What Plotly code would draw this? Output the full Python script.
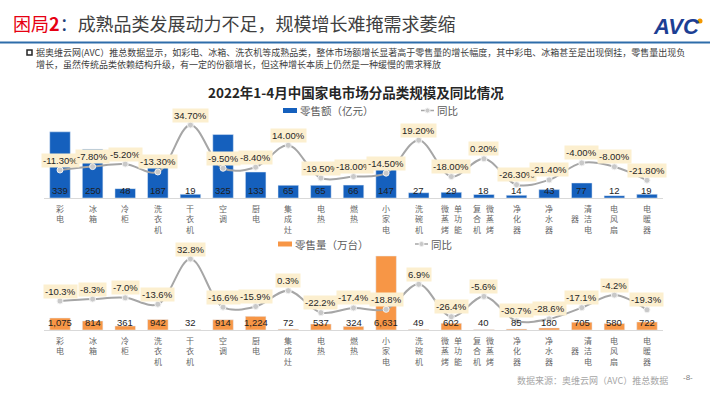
import plotly.graph_objects as go

# ---------------- data ----------------
categories = ["彩电", "冰箱", "冷柜", "洗衣机", "干衣机", "空调", "厨电", "集成灶", "电热", "燃热",
              "小家电", "洗碗机", "单功能微蒸烤", "微蒸烤复合机", "净化器", "净水器", "清洁电器", "电风扇", "电暖器"]
sales_value = [339, 250, 48, 187, 19, 325, 133, 65, 65, 66, 147, 27, 29, 18, 14, 43, 77, 12, 19]
sales_value_yoy = [-11.3, -7.8, -5.2, -13.3, 34.7, -9.5, -8.4, 14.0, -19.5, -18.0, -14.5, 19.2,
                   -18.0, 0.2, -26.3, -21.4, -4.0, -8.0, -21.8]
sales_volume = [1075, 814, 361, 942, 32, 914, 1224, 72, 537, 324, 6631, 49, 602, 40, 85, 180, 705, 580, 722]
sales_volume_yoy = [-10.3, -8.3, -7.0, -13.6, 32.8, -16.6, -15.9, 0.3, -22.2, -17.4, -18.8, 6.9,
                    -26.4, -5.6, -30.7, -28.6, -17.1, -4.2, -19.3]

title_text = "成熟品类发展动力不足，规模增长难掩需求萎缩"
chart_title = "2022年1-4月中国家电市场分品类规模及同比情况"
para_line1 = "据奥维云网(AVC）推总数据显示，如彩电、冰箱、洗衣机等成熟品类，整体市场额增长显著高于零售量的增长幅度，其中彩电、冰箱甚至是出现倒挂，零售量出现负"
para_line2 = "增长，虽然传统品类依赖结构升级，有一定的份额增长，但这种增长本质上仍然是一种缓慢的需求释放"
legend_value = "零售额（亿元）"
legend_volume = "零售量（万台）"
legend_yoy = "同比"
source_text = "数据来源：奥维云网（AVC）推总数据"
page_no = "-8-"

# ---------------- layout helpers ----------------
W, H = 710, 399
def px(x):
    return x / W
def py(y):
    return 1 - y / H

FONT = "Liberation Sans, Noto Sans CJK SC, sans-serif"
CJK = "Noto Sans CJK SC, Liberation Sans, sans-serif"
BLUE = "#1560BD"
ORANGE = "#F79646"
LINE_GREY = "#A6A6A6"
LABEL_BG = "#FCEFCF"

x_dom = [px(43.7), px(663.3)]
top_dom = [py(198), py(108)]
bot_dom = [py(330), py(240)]

fig = go.Figure()

# top chart
fig.add_trace(go.Bar(x=categories, y=sales_value, marker_color=BLUE, width=0.63,
                     xaxis="x", yaxis="y", showlegend=False, hoverinfo="skip"))
fig.add_trace(go.Scatter(x=categories, y=sales_value_yoy, mode="lines+markers",
                         line=dict(color=LINE_GREY, width=2, shape="spline", smoothing=1),
                         marker=dict(size=6, color="#C9C9C9", line=dict(color="#F2F2F2", width=1)),
                         xaxis="x", yaxis="y2", showlegend=False, hoverinfo="skip"))
# bottom chart
fig.add_trace(go.Bar(x=categories, y=sales_volume, marker_color=ORANGE, width=0.63,
                     xaxis="x2", yaxis="y3", showlegend=False, hoverinfo="skip"))
fig.add_trace(go.Scatter(x=categories, y=sales_volume_yoy, mode="lines+markers",
                         line=dict(color=LINE_GREY, width=2, shape="spline", smoothing=1),
                         marker=dict(size=6, color="#C9C9C9", line=dict(color="#F2F2F2", width=1)),
                         xaxis="x2", yaxis="y4", showlegend=False, hoverinfo="skip"))

ann = []
shapes = []

# value labels and yoy labels
for c, v, p in zip(categories, sales_value, sales_value_yoy):
    ann.append(dict(x=c, y=0, xref="x", yref="y", text=str(v), showarrow=False,
                    yanchor="bottom", yshift=0, font=dict(family=FONT, size=9.5, color="#1E1E1E")))
    ann.append(dict(x=c, y=p, xref="x", yref="y2", text=f"{p:.2f}%", showarrow=False,
                    yanchor="middle", yshift=10, bgcolor=LABEL_BG, borderpad=1,
                    font=dict(family=FONT, size=9.5, color="#262626")))
for c, v, p in zip(categories, sales_volume, sales_volume_yoy):
    ann.append(dict(x=c, y=0, xref="x2", yref="y3", text=f"{v:,}", showarrow=False,
                    yanchor="bottom", yshift=0, font=dict(family=FONT, size=9.5, color="#1E1E1E")))
    ann.append(dict(x=c, y=p, xref="x2", yref="y4", text=f"{p:.1f}%", showarrow=False,
                    yanchor="middle", yshift=10, bgcolor=LABEL_BG, borderpad=1,
                    font=dict(family=FONT, size=9.5, color="#262626")))

# vertical category labels (chunks of 3 chars, first chunk right column)
CAT_FS = 8
ROW = CAT_FS * 1.3
for xref, yref in (("x", "y domain"), ("x2", "y3 domain")):
    for c in categories:
        cols = [c[i:i + 3] for i in range(0, len(c), 3)]
        n = len(cols)
        maxrows = max(len(col) for col in cols)
        for j, col in enumerate(cols):
            xs = ((n - 1) / 2 - j) * 13
            voff = (maxrows - len(col)) * ROW / 2
            ann.append(dict(x=c, y=0, xref=xref, yref=yref, text="<br>".join(col), showarrow=False,
                            xshift=xs, yshift=-(3.5 + voff), yanchor="top", borderpad=0,
                            font=dict(family=CJK, size=CAT_FS, color="#666666")))

# page title
ann.append(dict(x=px(11), y=py(23), xref="paper", yref="paper", xanchor="left", yanchor="middle",
                text="<span style='color:#E60012'>困局<b>2</b></span><span style='color:#1F3F7A'>：</span>" + title_text,
                showarrow=False, font=dict(family=CJK, size=18, color="#404040")))
# logo
ann.append(dict(x=px(676), y=py(26), xref="paper", yref="paper", xanchor="center", yanchor="middle",
                text="<b><i>AVC</i></b>",
                showarrow=False, font=dict(family="Liberation Sans, sans-serif", size=22, color="#1C3F94")))
shapes.append(dict(type="circle", xref="paper", yref="paper", x0=px(697.5), x1=px(702.5),
                   y0=py(23.5), y1=py(18.5), fillcolor="#F39800", line=dict(width=0)))
# blue rule
shapes.append(dict(type="line", xref="paper", yref="paper", x0=0, x1=1, y0=py(42.5), y1=py(42.5),
                   line=dict(color="#2E6DAA", width=2)))
# bullet
shapes.append(dict(type="rect", xref="paper", yref="paper", x0=px(27), x1=px(32), y0=py(55), y1=py(50),
                   line=dict(color="#262626", width=1.5), fillcolor="white"))
ann.append(dict(x=px(35), y=py(58), xref="paper", yref="paper", xanchor="left", yanchor="middle",
                align="left", text=para_line1 + "<br>" + para_line2, showarrow=False, borderpad=0,
                font=dict(family=CJK, size=9, color="#404040")))
# chart title
ann.append(dict(x=px(356), y=py(92), xref="paper", yref="paper", xanchor="center", yanchor="middle",
                text="<b>" + chart_title + "</b>",
                showarrow=False, font=dict(family=CJK, size=13.5, color="#262626")))

# custom legends
def legend_bar(x0, y, color, label):
    shapes.append(dict(type="rect", xref="paper", yref="paper", x0=px(x0), x1=px(x0 + 14),
                       y0=py(y + 2.5), y1=py(y - 2.5), fillcolor=color, line=dict(width=0)))
    ann.append(dict(x=px(x0 + 15), y=py(y), xref="paper", yref="paper", xanchor="left", yanchor="middle",
                    text=label, showarrow=False, font=dict(family=CJK, size=10.5, color="#595959")))

def legend_line(x0, y, label):
    shapes.append(dict(type="line", xref="paper", yref="paper", x0=px(x0), x1=px(x0 + 13),
                       y0=py(y), y1=py(y), line=dict(color=LINE_GREY, width=1.5)))
    shapes.append(dict(type="circle", xref="paper", yref="paper", x0=px(x0 + 4), x1=px(x0 + 9),
                       y0=py(y + 2.5), y1=py(y - 2.5), fillcolor="#C9C9C9",
                       line=dict(color="#F2F2F2", width=1)))
    ann.append(dict(x=px(x0 + 14), y=py(y), xref="paper", yref="paper", xanchor="left", yanchor="middle",
                    text=label, showarrow=False, font=dict(family=CJK, size=10.5, color="#595959")))

legend_bar(283, 110.5, BLUE, legend_value)
legend_line(421, 110.5, legend_yoy)
legend_bar(278, 244, ORANGE, legend_volume)
legend_line(415, 244, legend_yoy)

# footer
ann.append(dict(x=px(670), y=py(380), xref="paper", yref="paper", xanchor="right", yanchor="middle",
                text=source_text, showarrow=False, font=dict(family=CJK, size=9, color="#A6A6A6")))
ann.append(dict(x=px(688), y=py(377), xref="paper", yref="paper", xanchor="center", yanchor="middle",
                text=page_no, showarrow=False,
                font=dict(family=FONT, size=8, color="#7F7F7F")))

axis_common = dict(type="category", range=[-0.5, len(categories) - 0.5], showticklabels=False,
                   showline=True, linecolor="#D9D9D9", linewidth=1, ticks="", showgrid=False,
                   zeroline=False, fixedrange=True)

fig.update_layout(
    width=W, height=H, margin=dict(l=0, r=0, t=0, b=0),
    paper_bgcolor="white", plot_bgcolor="rgba(0,0,0,0)",
    showlegend=False, bargap=0.37,
    xaxis=dict(domain=x_dom, anchor="y", **axis_common),
    xaxis2=dict(domain=x_dom, anchor="y3", **axis_common),
    yaxis=dict(domain=top_dom, range=[0, 461], visible=False, fixedrange=True),
    yaxis2=dict(overlaying="y", range=[-39.9, 52.1], visible=False, fixedrange=True),
    yaxis3=dict(domain=bot_dom, range=[0, 8065], visible=False, fixedrange=True),
    yaxis4=dict(overlaying="y3", range=[-40, 52.3], visible=False, fixedrange=True),
    annotations=ann, shapes=shapes,
)

fig.write_html("out.html", config={"displayModeBar": False},
               post_script="document.body.style.margin='0';document.body.style.padding='0';")
